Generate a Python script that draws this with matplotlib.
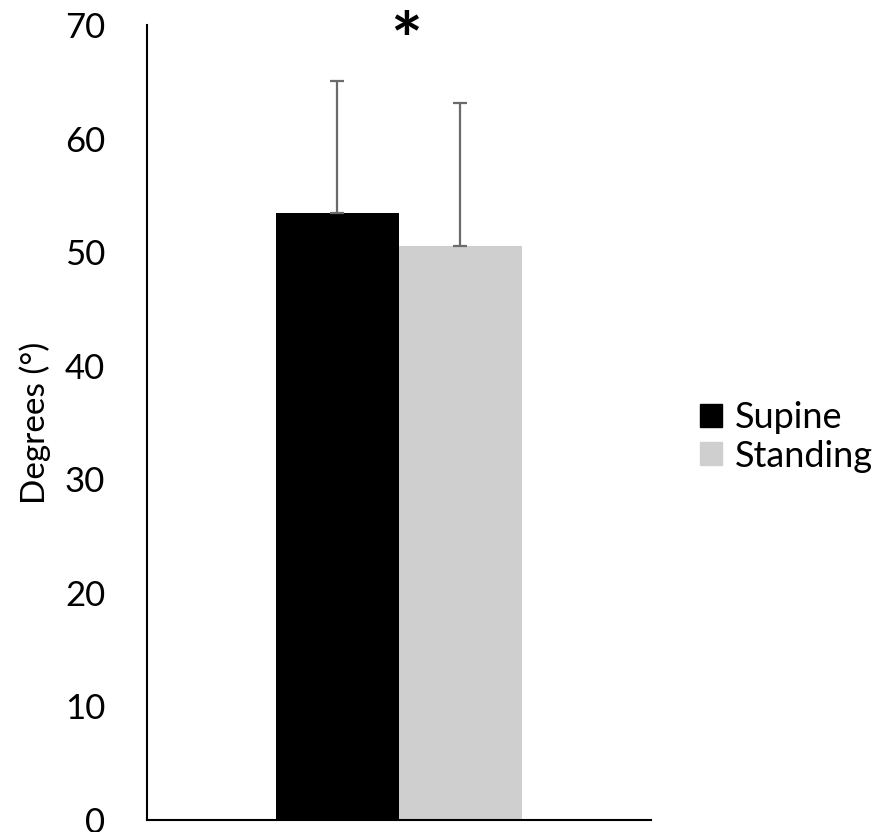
import matplotlib
matplotlib.use("Agg")
import matplotlib.pyplot as plt
from matplotlib.patches import Patch

series = ["Supine", "Standing"]
values = [53.45, 50.55]
errors = [11.6, 12.6]
colors = ["#000000", "#d0cfd0"]
yticks = [0, 10, 20, 30, 40, 50, 60, 70]

plt.rcParams['font.family'] = ['Lato', 'DejaVu Sans']

fig = plt.figure(figsize=(8.85, 8.32), dpi=100)
ax = fig.add_axes([0.166, 0.0144, 0.5695, 0.9556])

w = 0.244
offsets = [-w / 2, w / 2]
for s, v, e, c, o in zip(series, values, errors, colors, offsets):
    ax.bar(o, v, width=w, color=c, label=s, zorder=2)
    ax.errorbar(o, v, yerr=[[0], [e]], fmt='none', ecolor='#6b6b6b',
                elinewidth=1.6, capsize=5, capthick=1.6, zorder=3)

ax.set_xlim(-0.5, 0.5)
ax.set_ylim(0, 70)
ax.set_yticks(yticks)
ax.set_xticks([])
ax.tick_params(axis='y', length=0, labelsize=25, pad=30)
for sp in ['top', 'right']:
    ax.spines[sp].set_visible(False)
ax.spines['left'].set_linewidth(1.5)
ax.spines['bottom'].set_linewidth(1.5)
ax.set_ylabel("Degrees (°)", fontsize=24, labelpad=10)

ax.text(0.015, 68.3, "*", ha='center', va='center', fontsize=54,
        fontweight='bold', clip_on=False)

handles = [Patch(color=c, label=s) for s, c in zip(series, colors)]
fig.legend(handles=handles, loc='center left', bbox_to_anchor=(0.754, 0.475),
           frameon=False, fontsize=26, handlelength=0.62, handleheight=0.62,
           handletextpad=0.35, labelspacing=0.15)

fig.savefig("out.png", dpi=100)
